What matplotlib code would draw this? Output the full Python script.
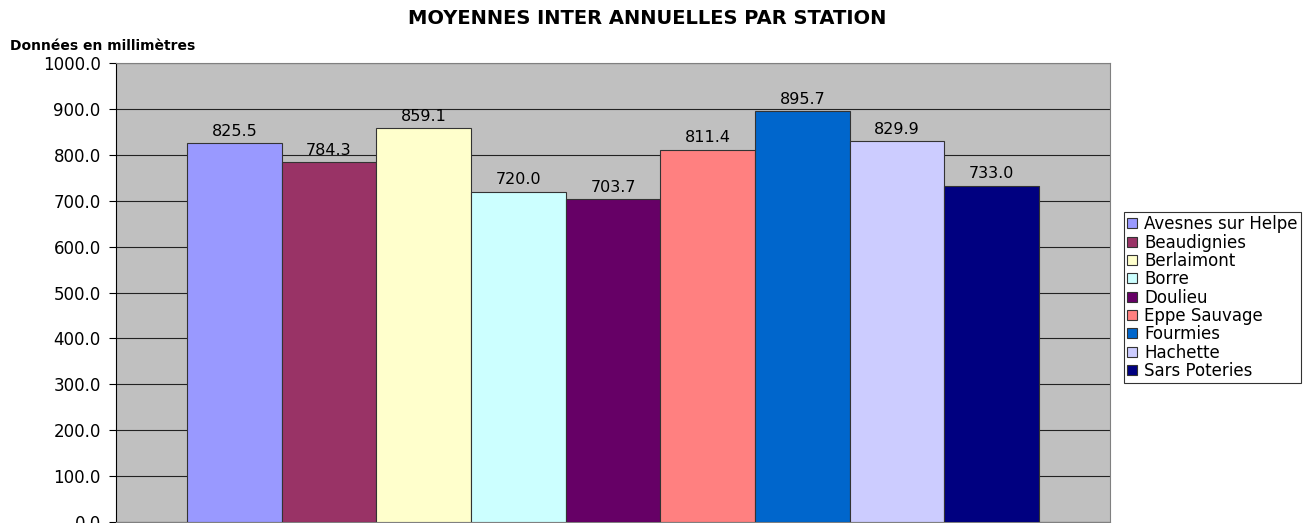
import matplotlib
matplotlib.use("Agg")
import matplotlib.pyplot as plt

stations = ["Avesnes sur Helpe", "Beaudignies", "Berlaimont", "Borre", "Doulieu",
            "Eppe Sauvage", "Fourmies", "Hachette", "Sars Poteries"]
values = [825.5, 784.3, 859.1, 720.0, 703.7, 811.4, 895.7, 829.9, 733.0]
colors = ["#9999FF", "#993366", "#FFFFCC", "#CCFFFF", "#660066",
          "#FF8080", "#0066CC", "#CCCCFF", "#000080"]
yticks = [0, 100, 200, 300, 400, 500, 600, 700, 800, 900, 1000]

plt.rcParams['font.family'] = ['DejaVu Sans']

W, H = 1306, 523
fig = plt.figure(figsize=(W / 100, H / 100), dpi=100)
ax_left, ax_right = 116, 1110
ax_top, ax_bottom = 63, 522
ax = fig.add_axes([ax_left / W, (H - ax_bottom) / H, (ax_right - ax_left) / W, (ax_bottom - ax_top) / H])
ax.set_facecolor("#C0C0C0")

x = list(range(len(values)))
bars = ax.bar(x, values, width=1.0, color=colors, edgecolor="#333333", linewidth=0.8, zorder=3)
for xi, v in zip(x, values):
    ax.annotate(f"{v:.1f}", (xi, v), xytext=(0, 3), textcoords="offset points",
                ha="center", va="bottom", fontsize=11.5)

ax.set_xlim(-1.25, 9.25)
ax.set_ylim(0, 1000)
ax.set_yticks(yticks)
ax.set_yticklabels([f"{t:.1f}" for t in yticks], fontsize=12)
ax.set_xticks([])
ax.yaxis.grid(True, color="#222222", linewidth=0.8, zorder=1)
ax.set_axisbelow(True)
ax.tick_params(axis="y", length=5, width=0.8, direction="out", pad=6)
ax.spines["left"].set_color("black")
for s in ["top", "right", "bottom"]:
    ax.spines[s].set_color("#808080")
    ax.spines[s].set_linewidth(0.8)

fig.text(647 / W, 1 - 19 / H, "MOYENNES INTER ANNUELLES PAR STATION", ha="center", va="center",
         fontsize=14, fontweight="bold")
fig.text(10 / W, 1 - 46 / H, "Données en millimètres", ha="left", va="center",
         fontsize=10, fontweight="bold")

leg = fig.legend(bars, stations, loc="upper left", bbox_to_anchor=(1124 / W, 1 - 212 / H),
                 frameon=True, fancybox=False, edgecolor="black", fontsize=12,
                 handlelength=0.55, handleheight=0.55, handletextpad=0.45,
                 labelspacing=0.02, borderpad=0.2, borderaxespad=0)
leg.get_frame().set_linewidth(0.8)

fig.savefig("out.png", dpi=100, facecolor="white")
